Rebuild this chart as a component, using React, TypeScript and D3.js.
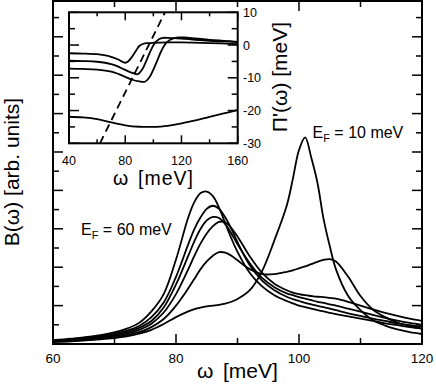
import React from "react";
import * as d3 from "d3";

// ---- main plot data: B(omega) for several Fermi energies ----
const omega = [60, 63, 66, 69, 72, 74, 76, 78, 80, 82, 83, 84, 85, 86, 87, 88, 89, 90, 92, 94, 96, 98, 99, 100, 101, 102, 103, 104, 105, 106, 108, 110, 112, 114, 116, 118, 120];
const bEF60 = [0.10, 0.14, 0.19, 0.27, 0.40, 0.55, 0.85, 1.30, 2.20, 3.30, 3.70, 3.93, 3.97, 3.85, 3.55, 3.15, 2.75, 2.40, 1.85, 1.50, 1.27, 1.12, 1.06, 1.00, 0.96, 0.92, 0.88, 0.85, 0.81, 0.78, 0.72, 0.66, 0.60, 0.54, 0.49, 0.44, 0.40];
const bEF50 = [0.09, 0.12, 0.17, 0.24, 0.35, 0.47, 0.70, 1.08, 1.75, 2.60, 3.00, 3.30, 3.52, 3.60, 3.52, 3.30, 3.00, 2.65, 2.05, 1.65, 1.40, 1.23, 1.17, 1.12, 1.07, 1.03, 0.99, 0.96, 0.92, 0.88, 0.80, 0.73, 0.66, 0.60, 0.54, 0.49, 0.45];
const bEF40 = [0.08, 0.11, 0.15, 0.21, 0.31, 0.42, 0.60, 0.95, 1.55, 2.30, 2.68, 3.00, 3.22, 3.31, 3.28, 3.12, 2.88, 2.60, 2.10, 1.72, 1.48, 1.32, 1.27, 1.22, 1.18, 1.14, 1.10, 1.07, 1.03, 1.00, 0.92, 0.84, 0.76, 0.68, 0.61, 0.55, 0.50];
const bEF30 = [0.07, 0.10, 0.13, 0.19, 0.27, 0.37, 0.53, 0.82, 1.30, 1.95, 2.30, 2.62, 2.88, 3.07, 3.18, 3.17, 3.02, 2.80, 2.28, 1.85, 1.57, 1.40, 1.34, 1.30, 1.27, 1.25, 1.23, 1.22, 1.20, 1.18, 1.10, 1.00, 0.90, 0.81, 0.73, 0.66, 0.60];
const bEF20 = [0.06, 0.08, 0.11, 0.16, 0.23, 0.31, 0.44, 0.65, 1.00, 1.45, 1.70, 1.95, 2.15, 2.30, 2.39, 2.38, 2.30, 2.18, 1.95, 1.82, 1.82, 1.88, 1.92, 1.97, 2.02, 2.08, 2.14, 2.19, 2.21, 2.15, 1.75, 1.25, 0.90, 0.70, 0.56, 0.47, 0.40];
const bEF10 = [0.05, 0.07, 0.10, 0.14, 0.20, 0.27, 0.37, 0.52, 0.70, 0.85, 0.91, 0.95, 0.98, 1.00, 1.02, 1.05, 1.10, 1.17, 1.40, 1.90, 2.70, 3.60, 4.30, 5.05, 5.38, 4.85, 4.20, 3.25, 2.55, 1.95, 1.25, 0.88, 0.62, 0.48, 0.38, 0.31, 0.26];
const mainSeries = [bEF60, bEF50, bEF40, bEF30, bEF20, bEF10];

const mainXTicks = [60, 80, 100, 120];
const mainXMinor = [70, 90, 110];

// ---- inset data: Pi'(omega) ----
const insetOmegaA = [40, 50, 60, 65, 70, 75, 78, 80, 82, 85, 88, 90, 93, 96, 100, 110, 120, 140, 160];
const insetA = [-2.5, -2.6, -2.8, -3.1, -3.6, -4.4, -5.1, -5.4, -5.0, -3.5, -1.5, -0.3, 0.4, 0.6, 0.7, 0.8, 0.8, 0.6, 0.3];
const insetOmegaB = [40, 50, 60, 70, 75, 80, 85, 89, 92, 95, 98, 101, 104, 107, 110, 115, 120, 130, 140, 150, 160];
const insetB = [-4.8, -4.9, -5.1, -5.8, -6.6, -7.6, -8.5, -8.9, -7.5, -4.8, -1.8, 0.6, 1.8, 2.2, 2.2, 2.1, 2.0, 1.6, 1.3, 1.1, 0.9];
const insetOmegaC = [40, 50, 60, 70, 75, 80, 85, 90, 94, 97, 100, 103, 106, 109, 112, 115, 118, 122, 130, 140, 150, 160];
const insetC = [-7.2, -7.3, -7.5, -8.1, -8.8, -9.7, -10.6, -11.1, -11.2, -10.0, -7.5, -4.5, -1.5, 0.6, 1.6, 2.1, 2.3, 2.3, 2.0, 1.6, 1.3, 1.0];
const insetOmegaD = [40, 50, 60, 70, 80, 90, 100, 105, 110, 120, 130, 140, 150, 160];
const insetD = [-21.9, -22.1, -22.6, -23.6, -24.5, -24.95, -25.0, -24.9, -24.7, -23.9, -23.0, -21.9, -20.9, -19.8];
const dashOmega = [62, 108.3];
const dashValue = [-30, 10];

const insetXTicks = [40, 80, 120, 160];
const insetXMinor = [60, 100, 140];
const insetYTicks = [-30, -20, -10, 0, 10];
const insetYMinor = [-25, -15, -5, 5];

const FONT = "'Liberation Sans', Arial, Helvetica, sans-serif";

export default function App() {
  // main scales
  const x = d3.scaleLinear().domain([60, 120]).range([53, 422]);
  const y = d3.scaleLinear().domain([0, 8.932]).range([344, 1]);
  // inset scales
  const xi = d3.scaleLinear().domain([40, 160]).range([69, 237.7]);
  const yi = d3.scaleLinear().domain([-30, 10]).range([143.3, 12.3]);

  const mainLine = d3
    .line<[number, number]>()
    .x((d) => x(d[0]))
    .y((d) => y(d[1]))
    .curve(d3.curveCatmullRom.alpha(0.5));
  const insetLine = d3
    .line<[number, number]>()
    .x((d) => xi(d[0]))
    .y((d) => yi(d[1]))
    .curve(d3.curveCatmullRom.alpha(0.5));

  const zip = (a: number[], b: number[]) => a.map((v, i) => [v, b[i]] as [number, number]);

  const yMajor = d3.range(1, 9);
  const yMinor = d3.range(0.5, 8.9, 1);

  const [x0, x1] = x.range();
  const yb = 344, yt = 1;
  const [ix0, ix1] = xi.range();
  const [iyb, iyt] = yi.range();

  return (
    <svg width={436} height={387} style={{ position: "absolute", left: 0, top: 0, background: "#fff" }} fontFamily={FONT}>
      <defs>
        <clipPath id="mainClip">
          <rect x={x0} y={yt} width={x1 - x0} height={yb - yt} />
        </clipPath>
        <clipPath id="insetClip">
          <rect x={ix0} y={iyt} width={ix1 - ix0} height={iyb - iyt} />
        </clipPath>
      </defs>

      {/* main curves */}
      <g clipPath="url(#mainClip)" fill="none" stroke="#000" strokeWidth={1.8}>
        {mainSeries.map((s, i) => (
          <path key={i} d={mainLine(zip(omega, s)) || ""} />
        ))}
      </g>

      {/* main ticks */}
      <g stroke="#000" strokeWidth={1.5}>
        {mainXTicks.map((t) => (
          <g key={"mx" + t}>
            <line x1={x(t)} x2={x(t)} y1={yb} y2={yb - 10} />
            <line x1={x(t)} x2={x(t)} y1={yt} y2={yt + 10} />
          </g>
        ))}
        {mainXMinor.map((t) => (
          <g key={"mxm" + t}>
            <line x1={x(t)} x2={x(t)} y1={yb} y2={yb - 6} />
            <line x1={x(t)} x2={x(t)} y1={yt} y2={yt + 6} />
          </g>
        ))}
        {yMajor.map((t) => (
          <g key={"my" + t}>
            <line x1={x0} x2={x0 + 10} y1={y(t)} y2={y(t)} />
            <line x1={x1} x2={x1 - 10} y1={y(t)} y2={y(t)} />
          </g>
        ))}
        {yMinor.map((t) => (
          <g key={"mym" + t}>
            <line x1={x0} x2={x0 + 6} y1={y(t)} y2={y(t)} />
            <line x1={x1} x2={x1 - 6} y1={y(t)} y2={y(t)} />
          </g>
        ))}
      </g>
      <rect x={x0} y={yt} width={x1 - x0} height={yb - yt} fill="none" stroke="#000" strokeWidth={2} />

      {/* main tick labels */}
      <g fontSize={13.5} textAnchor="middle" fill="#000">
        {mainXTicks.map((t) => (
          <text key={"mxl" + t} x={x(t)} y={362.5}>
            {t}
          </text>
        ))}
      </g>
      <text x={197} y={378} fontSize={21} fill="#000">ω</text>
      <text x={223} y={378} fontSize={21} fill="#000">[meV]</text>
      <text transform="translate(19,172) rotate(-90)" textAnchor="middle" fontSize={21} fill="#000">
        B(ω)  [arb. units]
      </text>

      {/* annotations */}
      <text x={81} y={235} fontSize={16} fill="#000">
        E<tspan dy={4} fontSize={11}>F</tspan>
        <tspan dy={-4}> = 60 meV</tspan>
      </text>
      <text x={312.5} y={138} fontSize={16} fill="#000">
        E<tspan dy={4} fontSize={11}>F</tspan>
        <tspan dy={-4}> = 10 meV</tspan>
      </text>

      {/* inset */}
      <rect x={ix0} y={iyt} width={ix1 - ix0} height={iyb - iyt} fill="#fff" />
      <g clipPath="url(#insetClip)" fill="none" stroke="#000" strokeWidth={1.8}>
        <path d={insetLine(zip(insetOmegaA, insetA)) || ""} />
        <path d={insetLine(zip(insetOmegaB, insetB)) || ""} />
        <path d={insetLine(zip(insetOmegaC, insetC)) || ""} />
        <path d={insetLine(zip(insetOmegaD, insetD)) || ""} />
        <path d={insetLine(zip(dashOmega, dashValue)) || ""} strokeDasharray="8,5" />
      </g>
      <g stroke="#000" strokeWidth={1.5}>
        {insetXTicks.map((t) => (
          <g key={"ix" + t}>
            <line x1={xi(t)} x2={xi(t)} y1={iyb} y2={iyb - 8} />
            <line x1={xi(t)} x2={xi(t)} y1={iyt} y2={iyt + 8} />
          </g>
        ))}
        {insetXMinor.map((t) => (
          <g key={"ixm" + t}>
            <line x1={xi(t)} x2={xi(t)} y1={iyb} y2={iyb - 4} />
            <line x1={xi(t)} x2={xi(t)} y1={iyt} y2={iyt + 4} />
          </g>
        ))}
        {insetYTicks.map((t) => (
          <g key={"iy" + t}>
            <line x1={ix0} x2={ix0 + 10} y1={yi(t)} y2={yi(t)} />
            <line x1={ix1} x2={ix1 - 10} y1={yi(t)} y2={yi(t)} />
          </g>
        ))}
        {insetYMinor.map((t) => (
          <g key={"iym" + t}>
            <line x1={ix0} x2={ix0 + 6} y1={yi(t)} y2={yi(t)} />
            <line x1={ix1} x2={ix1 - 6} y1={yi(t)} y2={yi(t)} />
          </g>
        ))}
      </g>
      <rect x={ix0} y={iyt} width={ix1 - ix0} height={iyb - iyt} fill="none" stroke="#000" strokeWidth={2} />
      <g fontSize={12.5} fill="#000">
        {insetXTicks.map((t) => (
          <text key={"ixl" + t} x={xi(t)} y={164.5} textAnchor="middle">
            {t}
          </text>
        ))}
        {insetYTicks.map((t) => (
          <text key={"iyl" + t} x={243} y={yi(t) + 4.5}>
            {t}
          </text>
        ))}
      </g>
      <text x={113} y={185} fontSize={19.5} fill="#000">ω</text>
      <text x={138} y={185} fontSize={19.5} letterSpacing={1} fill="#000">[meV]</text>
      <text transform="translate(287,77) rotate(-90)" textAnchor="middle" fontSize={21} fill="#000">
        Π'(ω)  [meV]
      </text>
    </svg>
  );
}
